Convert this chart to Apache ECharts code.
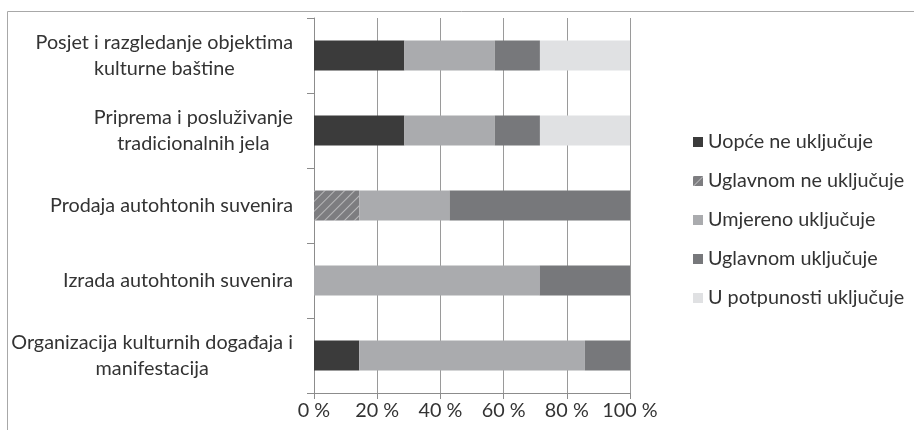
<!doctype html>
<html>
    <head>
        <meta charset="utf-8">
        <title>Kulturna baština - uključenost</title>
        <style>
            html, body { margin: 0; padding: 0; background: #fff; }
            #main { width: 914px; height: 430px; }
        </style>
    </head>
    <body>
        <div id="main"></div>
        <script src="https://cdn.jsdelivr.net/npm/echarts@6/dist/echarts.min.js"></script>
        <script>
            var categories = [
                'Posjet i razgledanje objektima\nkulturne baštine',
                'Priprema i posluživanje\ntradicionalnih jela',
                'Prodaja autohtonih suvenira',
                'Izrada autohtonih suvenira',
                'Organizacija kulturnih događaja i\nmanifestacija'
            ];
            var seriesNames = [
                'Uopće ne uključuje',
                'Uglavnom ne uključuje',
                'Umjereno uključuje',
                'Uglavnom uključuje',
                'U potpunosti uključuje'
            ];
            // shares in %, one array per answer
            var uopceNe = [28.6, 28.6, 0, 0, 14.3];
            var uglavnomNe = [0, 0, 14.3, 0, 0];
            var umjereno = [28.6, 28.6, 28.6, 71.4, 71.4];
            var uglavnom = [14.3, 14.3, 57.1, 28.6, 14.3];
            var uPotpunosti = [28.5, 28.5, 0, 0, 0];
            var xTicks = [0, 20, 40, 60, 80, 100];

            var FONT = 'Lato';
            var FS = 19.8;
            var chart = echarts.init(document.getElementById('main'));

            // right-aligned label block with centred lines
            var ctx = document.createElement('canvas').getContext('2d');
            ctx.font = FS + 'px ' + FONT;
            var yData = categories.map(function (c) {
                var w = Math.max.apply(null, c.split('\n').map(function (l) {
                    return ctx.measureText(l).width;
                }));
                return {
                    value: c,
                    textStyle: { align: 'center', padding: [0, w, 0, 0] }
                };
            });

            var colors = ['#3b3b3b', '#7d7d80', '#aaabae', '#77787b', '#e0e1e3'];
            var values = [uopceNe, uglavnomNe, umjereno, uglavnom, uPotpunosti];

            chart.setOption({
                animation: false,
                textStyle: { fontFamily: FONT },
                graphic: [{
                    type: 'rect',
                    shape: { x: 7.5, y: 11.5, width: 1000, height: 1000 },
                    style: { fill: 'none', stroke: '#a8a8a8', lineWidth: 1 },
                    silent: true
                }],
                grid: { left: 314, right: 284, top: 18, bottom: 37 },
                legend: {
                    orient: 'vertical',
                    left: 688,
                    top: 127,
                    itemWidth: 10,
                    itemHeight: 10,
                    itemGap: 19,
                    icon: 'rect',
                    textStyle: { fontSize: FS, color: '#333', lineHeight: 16 },
                    data: seriesNames
                },
                xAxis: {
                    type: 'value',
                    min: xTicks[0],
                    max: xTicks[xTicks.length - 1],
                    interval: 20,
                    axisLine: { show: true, lineStyle: { color: '#8c8c8c' } },
                    axisTick: { show: true, length: 6, lineStyle: { color: '#8c8c8c' } },
                    splitLine: { show: true, lineStyle: { color: '#9a9a9a' } },
                    axisLabel: {
                        formatter: '{value} %',
                        fontSize: FS,
                        color: '#333',
                        margin: 8
                    }
                },
                yAxis: {
                    type: 'category',
                    inverse: true,
                    data: yData,
                    axisLine: { show: true, lineStyle: { color: '#8c8c8c' } },
                    axisTick: { show: true, length: 7, lineStyle: { color: '#8c8c8c' } },
                    axisLabel: {
                        fontSize: FS,
                        color: '#333',
                        lineHeight: 26,
                        margin: 21
                    }
                },
                series: seriesNames.map(function (name, i) {
                    var s = {
                        name: name,
                        type: 'bar',
                        stack: 'total',
                        barWidth: '40%',
                        itemStyle: { color: colors[i] },
                        data: values[i]
                    };
                    if (i === 1) {
                        s.itemStyle.decal = {
                            symbol: 'rect',
                            symbolSize: 1,
                            dashArrayX: [1, 0],
                            dashArrayY: [1, 6],
                            rotation: -Math.PI / 4,
                            color: 'rgba(255,255,255,0.45)'
                        };
                    }
                    return s;
                })
            });

            window.onresize = chart.resize;
        </script>
    </body>
</html>
